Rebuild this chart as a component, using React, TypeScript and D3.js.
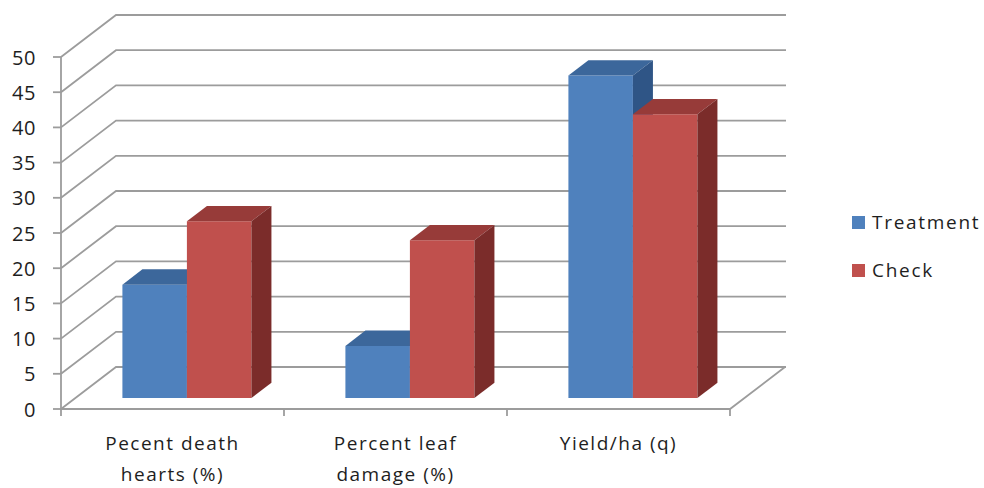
import React from "react";
import * as d3 from "d3";

// Category labels (one entry per text line)
const categories: string[][] = [
  ["Pecent death", "hearts (%)"],
  ["Percent leaf", "damage (%)"],
  ["Yield/ha (q)"],
];
const seriesNames = ["Treatment", "Check"];
const treatment = [16.1, 7.4, 45.8];
const check = [25.1, 22.4, 40.3];
const yTicks = [0, 5, 10, 15, 20, 25, 30, 35, 40, 45, 50];

const W = 984;
const H = 488;
const FONT = "'Open Sans', Lato, sans-serif";
const INK = "#1e1e1e";

// Oblique depth offset of the plot box (floor/back wall)
const DX = 55;
const DY = 42;
// Depth range occupied by the columns (fraction of the box depth)
const D0 = 0.262;
const D1 = 0.626;

const faceColors = [
  { front: "#4F81BD", top: "#3C679B", side: "#2F5586" },
  { front: "#C0504D", top: "#973B39", side: "#7B2C2A" },
];

export default function App() {
  const x = d3
    .scaleBand<number>()
    .domain(categories.map((_, i) => i))
    .range([61, 730])
    .paddingInner(0.4215)
    .paddingOuter(0.4215 / 2);
  const inner = d3
    .scaleBand<string>()
    .domain(seriesNames)
    .range([0, x.bandwidth()]);
  const y = d3.scaleLinear().domain([0, 50]).range([409, 57]);

  const P = (u: number, v: number, d: number): [number, number] => [
    u + d * DX,
    y(v) - d * DY,
  ];
  const poly = (pts: [number, number][]) =>
    pts.map((p) => p.join(",")).join(" ");

  const x0 = 61;
  const x1 = 730;
  const grid = "#9c9c9c";
  const series = [treatment, check];
  const step = x.step();
  const boundaries = d3.range(categories.length + 1).map((i) => x0 + i * step);

  return (
    <svg
      width={W}
      height={H}
      style={{ position: "absolute", left: 0, top: 0, background: "#fff" }}
    >
      {/* side wall + back wall gridlines */}
      {yTicks.map((v) => (
        <polyline
          key={`g${v}`}
          points={poly([P(x0, v, 0), P(x0, v, 1), P(x1 + 1, v, 1)])}
          fill="none"
          stroke={grid}
          strokeWidth={1.8}
        />
      ))}
      {/* floor */}
      <polyline
        points={poly([P(x0, 0, 0), P(x1, 0, 0), P(x1, 0, 1)])}
        fill="none"
        stroke={grid}
        strokeWidth={1.8}
      />
      {/* value axis */}
      <line x1={x0} x2={x0} y1={y(50)} y2={y(0)} stroke={grid} strokeWidth={1.8} />
      {yTicks.map((v) => (
        <g key={`t${v}`}>
          <line x1={x0 - 8} x2={x0} y1={y(v)} y2={y(v)} stroke={grid} strokeWidth={1.8} />
          <text
            x={36}
            y={y(v)}
            textAnchor="end"
            dominantBaseline="central"
            fontFamily={FONT}
            fontSize={20}
            letterSpacing={0.6}
            fill={INK}
          >
            {v}
          </text>
        </g>
      ))}
      {/* category ticks */}
      {boundaries.map((bx, i) => (
        <line key={`c${i}`} x1={bx} x2={bx} y1={y(0)} y2={y(0) + 7} stroke={grid} strokeWidth={1.8} />
      ))}
      {/* columns */}
      {categories.map((_, ci) => (
        <g key={`cat${ci}`}>
          {series.map((vals, si) => {
            const v = vals[ci];
            const ua = (x(ci) ?? 0) + (inner(seriesNames[si]) ?? 0);
            const ub = ua + inner.bandwidth();
            const c = faceColors[si];
            const front = [P(ua, 0, D0), P(ub, 0, D0), P(ub, v, D0), P(ua, v, D0)];
            const top = [P(ua, v, D0), P(ub, v, D0), P(ub, v, D1), P(ua, v, D1)];
            const side = [P(ub, 0, D0), P(ub, 0, D1), P(ub, v, D1), P(ub, v, D0)];
            return (
              <g key={`b${si}`}>
                <polygon points={poly(front)} fill={c.front} />
                <polygon points={poly(top)} fill={c.top} />
                <polygon points={poly(side)} fill={c.side} />
              </g>
            );
          })}
        </g>
      ))}
      {/* category labels */}
      {categories.map((lines, ci) => (
        <text
          key={`l${ci}`}
          x={(x(ci) ?? 0) + x.bandwidth() / 2}
          y={450}
          textAnchor="middle"
          fontFamily={FONT}
          fontSize={19}
          letterSpacing={1.5}
          fill={INK}
        >
          {lines.map((ln, li) => (
            <tspan key={li} x={(x(ci) ?? 0) + x.bandwidth() / 2} dy={li === 0 ? 0 : 31}>
              {ln}
            </tspan>
          ))}
        </text>
      ))}
      {/* legend */}
      {seriesNames.map((s, si) => (
        <g key={`leg${si}`} transform={`translate(852, ${216 + si * 48})`}>
          <rect width={13} height={13} fill={faceColors[si].front} />
          <text
            x={20}
            y={6}
            dominantBaseline="central"
            fontFamily={FONT}
            fontSize={19}
            letterSpacing={1.7}
            fill={INK}
          >
            {s}
          </text>
        </g>
      ))}
    </svg>
  );
}
